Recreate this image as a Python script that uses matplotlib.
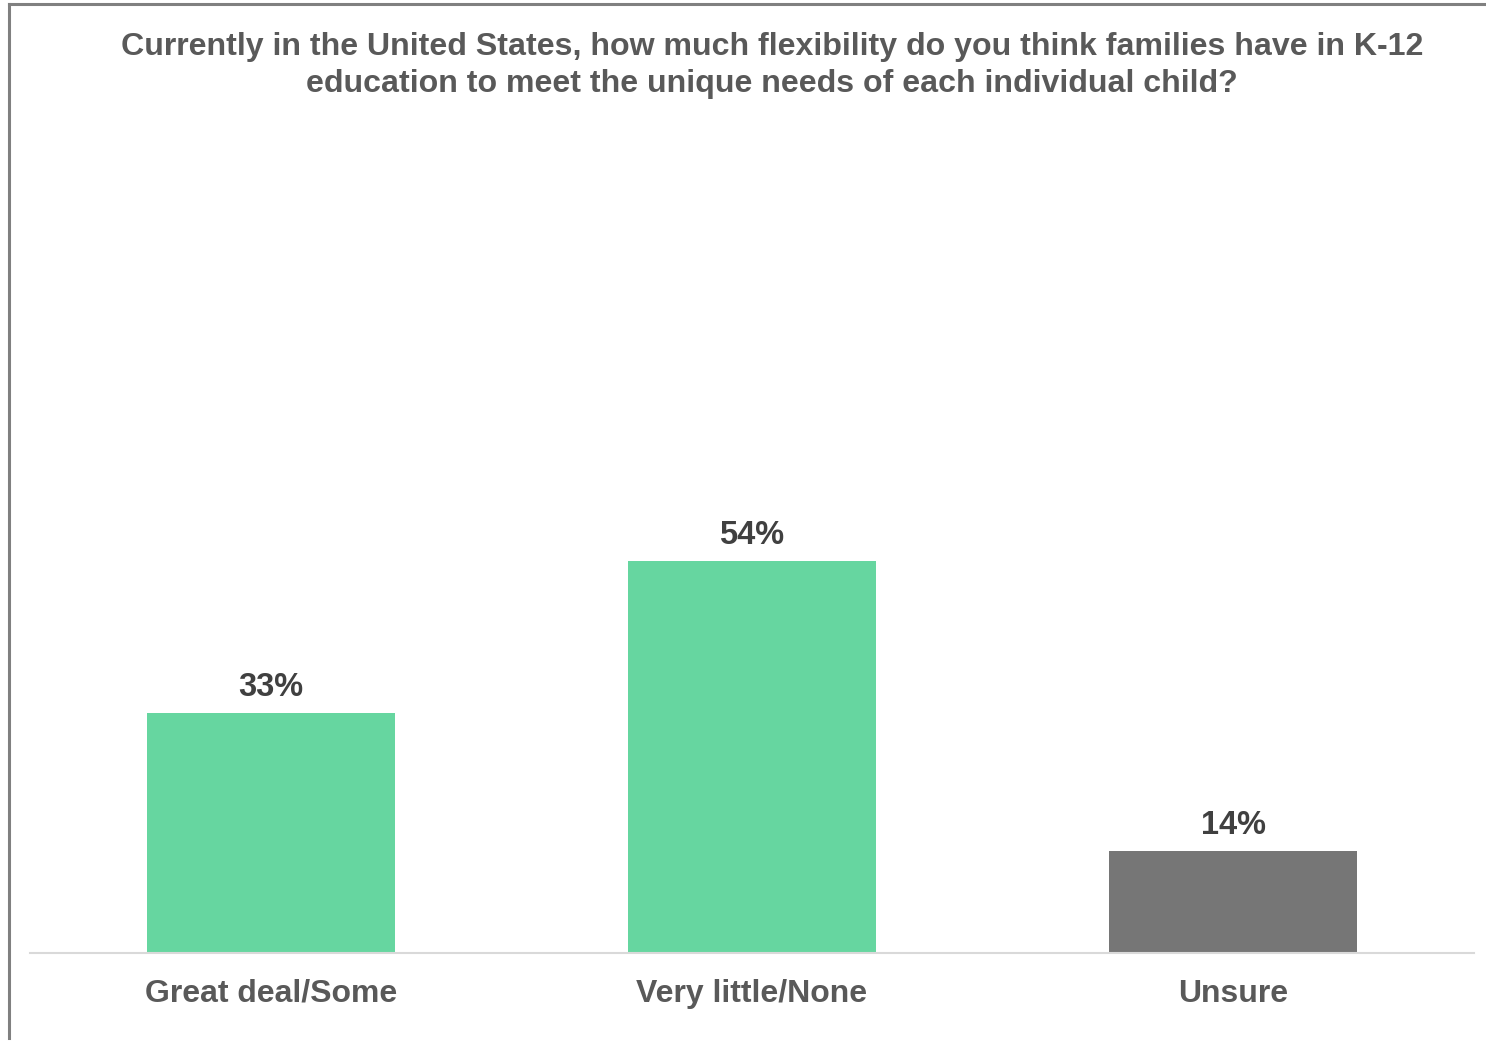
import matplotlib.pyplot as plt
from matplotlib.lines import Line2D

categories = ["Great deal/Some", "Very little/None", "Unsure"]
values = [33, 54, 14]
bar_colors = ["#66D6A0", "#66D6A0", "#767676"]
title = ("Currently in the United States, how much flexibility do you think families have in K-12\n"
         "education to meet the unique needs of each individual child?")

plt.rcParams['font.family'] = ['Liberation Sans', 'DejaVu Sans']

W, H = 1486, 1041
fig = plt.figure(figsize=(W / 100, H / 100), dpi=100)
ax = fig.add_axes([30 / W, 88 / H, 1444 / W, 435.6 / H])

x = list(range(len(categories)))
bars = ax.bar(x, values, width=0.515, color=bar_colors)
ax.set_xlim(-0.5, 2.5)
ax.set_ylim(0, 60)

for b, v in zip(bars, values):
    ax.annotate(f"{v}%", (b.get_x() + b.get_width() / 2, v),
                xytext=(0, 18.5), textcoords="offset points",
                ha="center", va="center", fontsize=23.5, fontweight="bold",
                color="#404040")

ax.set_xticks(x)
ax.set_xticklabels(categories, fontsize=23, fontweight="bold", color="#595959")
ax.tick_params(axis="x", length=0, pad=18.5)
ax.set_yticks([])
for s in ["top", "right", "left"]:
    ax.spines[s].set_visible(False)
ax.spines["bottom"].set_color("#D9D9D9")
ax.spines["bottom"].set_linewidth(1.5)

fig.text(772 / W, 1 - 65.5 / H, title, ha="center", va="center",
         multialignment="center", fontsize=23.1, fontweight="bold",
         color="#595959", linespacing=1.29)

# chart frame: top and left edges
fig.add_artist(Line2D([8.5 / W, 1], [1 - 3.5 / H, 1 - 3.5 / H],
                      transform=fig.transFigure, color="#808080", lw=2.2))
fig.add_artist(Line2D([8.5 / W, 8.5 / W], [1 - 3.5 / H, 3 / H],
                      transform=fig.transFigure, color="#808080", lw=2.2))

fig.savefig("out.png", dpi=100)
